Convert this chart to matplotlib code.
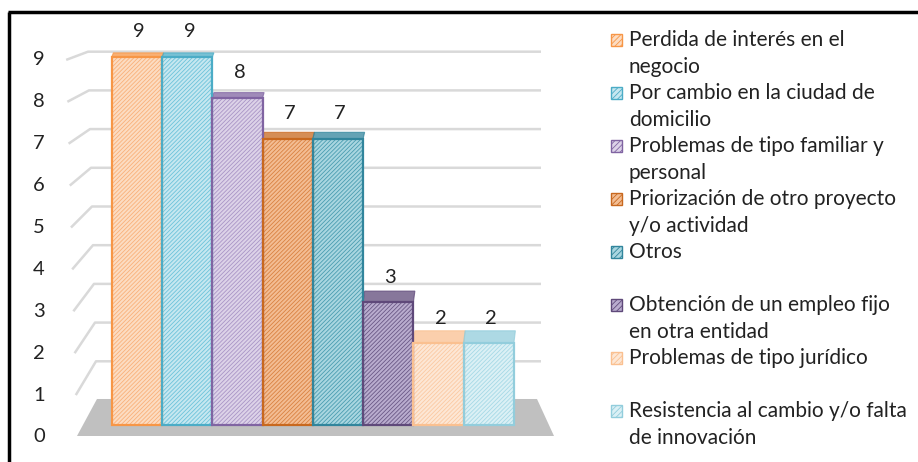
import numpy as np
import matplotlib
matplotlib.use("Agg")
import matplotlib.pyplot as plt
from matplotlib.patches import Rectangle, Polygon

plt.rcParams['font.family'] = ['Lato', 'DejaVu Sans']
plt.rcParams['hatch.linewidth'] = 0.6

# data
categories = [
    "Perdida de interés en el\nnegocio",
    "Por cambio en la ciudad de\ndomicilio",
    "Problemas de tipo familiar y\npersonal",
    "Priorización de otro proyecto\ny/o actividad",
    "Otros",
    "Obtención de un empleo fijo\nen otra entidad",
    "Problemas de tipo jurídico",
    "Resistencia al cambio y/o falta\nde innovación",
]
values = [9, 9, 8, 7, 7, 3, 2, 2]
face_colors = ['#fcdcc2', '#c6e7f0', '#dcd2e8', '#f3bd93', '#a9d6e0', '#b9acce', '#fde7d5', '#dbf0f5']
hatch_colors = ['#f9b07a', '#6cc3da', '#a995c6', '#d98141', '#4a9db1', '#6a5886', '#fbc9a2', '#a6d9e6']
edge_colors = ['#f79646', '#4bacc6', '#8064a2', '#c8681e', '#31859c', '#5f497a', '#fac090', '#92cddc']
y_ticks = list(range(0, 10))

W, H = 918, 462
fig = plt.figure(figsize=(W / 100, H / 100), dpi=100)

# main axes: x in bar units, y in value units (front face)
ax = fig.add_axes([60 / W, (H - 440) / H, 500 / W, 420 / H])
x = np.arange(len(values))
ax.set_xlim(-1.532, 8.418)
ax.set_ylim(-0.367, 9.902)
ax.axis('off')

# pseudo-3d helpers (pixel geometry converted to data units)
def px_x(p):
    return (p - 137) / 50.25

def px_y(p):
    return (425 - p) / 40.9

# floor
floor = Polygon([(px_x(97), px_y(399)), (px_x(537), px_y(399)),
                 (px_x(554), px_y(436)), (px_x(77), px_y(436))],
                closed=True, facecolor='#c0c0c0', edgecolor='none', zorder=1)
ax.add_patch(floor)

# back wall gridlines with slanted side segment
for v in y_ticks[1:]:
    yb = px_y(400 - 38.7 * v)
    yf = px_y(437 - 41.9 * v)
    xf = px_x(77 - 1.2 * v)
    xb = px_x(97 - 1.0 * v)
    ax.plot([xf, xb, px_x(541)], [yf, yb, yb], color='#d9d9d9', lw=1.8,
            solid_capstyle='butt', zorder=0.5)

# bars: fill+hatch, then outline
ax.bar(x, values, width=1.0, color=face_colors, edgecolor=hatch_colors,
       hatch='////////', linewidth=0, zorder=3)
ax.bar(x, values, width=1.0, fill=False, edgecolor=edge_colors,
       linewidth=1.6, zorder=4)

# top faces
for i, v in enumerate(values):
    dy = (4 + (9 - v) * 1.2) / 40.9
    dx = 1.5 / 50.25
    top = Polygon([(i - 0.5, v), (i + 0.5, v), (i + 0.5 + dx, v + dy), (i - 0.5 + dx, v + dy)],
                  closed=True, facecolor=edge_colors[i], edgecolor=edge_colors[i],
                  alpha=0.75, lw=0.8, zorder=3.5)
    ax.add_patch(top)

# value labels
for i, v in enumerate(values):
    ax.annotate(str(v), (i, v), xytext=(1.5, 18), textcoords='offset points',
                ha='center', va='center', fontsize=14.5, color='#222222')

# y tick labels
for v in y_ticks:
    ax.text(px_x(45), px_y(437 - 41.9 * v), str(v), ha='right', va='center',
            fontsize=14.5, color='#222222')

# overlay in pixel coordinates for frame and legend
ov = fig.add_axes([0, 0, 1, 1], zorder=5)
ov.set_xlim(0, W)
ov.set_ylim(H, 0)
ov.axis('off')
ov.plot([8, W], [12, 12], color='black', lw=2.5, solid_capstyle='butt')
ov.plot([9, 9], [12, H], color='black', lw=2.5, solid_capstyle='butt')

for k, lab in enumerate(categories):
    yc = 40 + 53 * k
    ov.add_patch(Rectangle((611, yc - 6), 11, 12, facecolor=face_colors[k],
                           edgecolor=edge_colors[k], hatch='//////', lw=0))
    ov.add_patch(Rectangle((611, yc - 6), 11, 12, fill=False,
                           edgecolor=edge_colors[k], lw=1))
    for j, line in enumerate(lab.split('\n')):
        ov.text(629, yc + 27 * j, line, ha='left', va='center',
                fontsize=15, color='#222222')

fig.savefig("out.png", dpi=100)
